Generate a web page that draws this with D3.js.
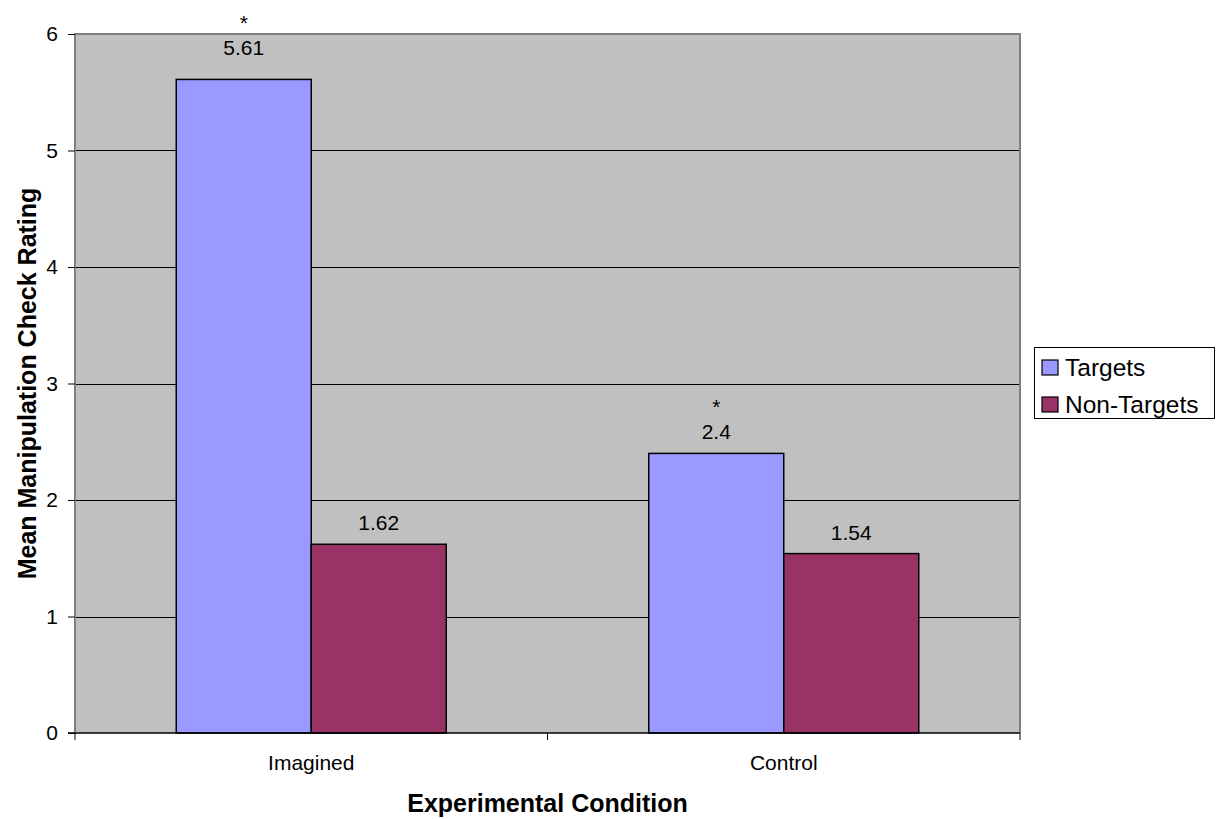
<!DOCTYPE html>
<html>
<head>
<meta charset="utf-8">
<script src="https://cdn.jsdelivr.net/npm/d3@7"></script>
<style>
  html, body { margin: 0; padding: 0; background: #ffffff; }
  svg { display: block; font-family: "Liberation Sans", Arial, sans-serif; }
</style>
</head>
<body>
<svg id="chart" width="1216" height="819"></svg>
<script>
// Experimental conditions and the two rating series
const categories = ["Imagined", "Control"];
const seriesNames = ["Targets", "Non-Targets"];
const targets = [5.61, 2.4];
const nonTargets = [1.62, 1.54];
const targetsSignificant = [true, true];     // asterisk above Targets bars
const nonTargetsSignificant = [false, false];
const yTicks = [0, 1, 2, 3, 4, 5, 6];

const colors = { "Targets": "#9999FF", "Non-Targets": "#993366" };

const svg = d3.select("#chart");
const plot = { left: 75, right: 1020, top: 34, bottom: 733 };

const x = d3.scaleBand()
  .domain(categories)
  .range([plot.left, plot.right])
  .paddingInner(0)
  .paddingOuter(0);

const xInner = d3.scaleBand()
  .domain(seriesNames)
  .range([0, x.bandwidth()])
  .paddingInner(0)
  .paddingOuter(0.75);

const y = d3.scaleLinear().domain([0, 6]).range([plot.bottom, plot.top]);

// Plot background
svg.append("rect")
  .attr("x", plot.left).attr("y", plot.top)
  .attr("width", plot.right - plot.left)
  .attr("height", plot.bottom - plot.top)
  .attr("fill", "#C0C0C0");

// Horizontal gridlines
svg.append("g")
  .selectAll("line")
  .data(yTicks.filter(t => t > 0 && t < 6))
  .join("line")
  .attr("x1", plot.left).attr("x2", plot.right)
  .attr("y1", d => Math.round(y(d)) + 0.5)
  .attr("y2", d => Math.round(y(d)) + 0.5)
  .attr("stroke", "#000")
  .attr("stroke-width", 1);

// Plot border (left, top, right)
svg.append("path")
  .attr("d", `M${plot.left},${plot.bottom} V${plot.top} H${plot.right} V${plot.bottom}`)
  .attr("fill", "none")
  .attr("stroke", "#808080")
  .attr("stroke-width", 2);

// Bars
const rows = categories.map((c, i) => ({
  category: c,
  values: [
    { series: "Targets", value: targets[i], star: targetsSignificant[i] },
    { series: "Non-Targets", value: nonTargets[i], star: nonTargetsSignificant[i] }
  ]
}));

const groups = svg.append("g")
  .selectAll("g")
  .data(rows)
  .join("g")
  .attr("transform", d => `translate(${x(d.category)},0)`);

groups.selectAll("rect")
  .data(d => d.values)
  .join("rect")
  .attr("x", d => xInner(d.series))
  .attr("y", d => y(d.value))
  .attr("width", xInner.bandwidth())
  .attr("height", d => y(0) - y(d.value))
  .attr("fill", d => colors[d.series])
  .attr("stroke", "#000")
  .attr("stroke-width", 1.5);

// Value labels (a label near the top of the plot sits a little higher)
const lift = v => (y(v) - plot.top < 60 ? 24 : 14);

groups.selectAll("text.value")
  .data(d => d.values)
  .join("text")
  .attr("class", "value")
  .attr("x", d => xInner(d.series) + xInner.bandwidth() / 2)
  .attr("y", d => y(d.value) - lift(d.value))
  .attr("text-anchor", "middle")
  .attr("font-size", 21)
  .attr("fill", "#000")
  .text(d => d.value);

groups.selectAll("text.star")
  .data(d => d.values.filter(v => v.star))
  .join("text")
  .attr("class", "star")
  .attr("x", d => xInner(d.series) + xInner.bandwidth() / 2)
  .attr("y", d => y(d.value) - lift(d.value) - 25)
  .attr("text-anchor", "middle")
  .attr("font-size", 21)
  .attr("fill", "#000")
  .text("*");

// Y axis
const yAxis = svg.append("g")
  .attr("transform", `translate(${plot.left},0)`)
  .call(d3.axisLeft(y).tickValues(yTicks).tickSize(7).tickPadding(10).tickFormat(d3.format("d")));
yAxis.select(".domain").remove();
yAxis.selectAll(".tick line").attr("stroke", "#000");
yAxis.selectAll(".tick text")
  .attr("font-size", 21)
  .attr("font-family", "'Liberation Sans', Arial, sans-serif")
  .attr("fill", "#000");

// X axis
const xAxis = svg.append("g")
  .attr("transform", `translate(0,${plot.bottom})`)
  .call(d3.axisBottom(x).tickSize(0).tickPadding(22));
xAxis.select(".domain").remove();
xAxis.selectAll(".tick text")
  .attr("font-size", 21)
  .attr("font-family", "'Liberation Sans', Arial, sans-serif")
  .attr("fill", "#000");

// Category separator ticks on the x axis
svg.append("g")
  .selectAll("line")
  .data([...categories.map(c => x(c)), plot.right])
  .join("line")
  .attr("x1", d => d).attr("x2", d => d)
  .attr("y1", plot.bottom).attr("y2", plot.bottom + 7)
  .attr("stroke", "#000")
  .attr("stroke-width", 1);

svg.append("line")
  .attr("x1", plot.left - 7).attr("x2", plot.right)
  .attr("y1", plot.bottom).attr("y2", plot.bottom)
  .attr("stroke", "#000")
  .attr("stroke-width", 1.5);

// Axis titles
svg.append("text")
  .attr("x", (plot.left + plot.right) / 2)
  .attr("y", 812)
  .attr("text-anchor", "middle")
  .attr("font-size", 25)
  .attr("font-weight", "bold")
  .attr("fill", "#000")
  .text("Experimental Condition");

svg.append("text")
  .attr("transform", `translate(36,${(plot.top + plot.bottom) / 2}) rotate(-90)`)
  .attr("text-anchor", "middle")
  .attr("font-size", 25)
  .attr("font-weight", "bold")
  .attr("fill", "#000")
  .text("Mean Manipulation Check Rating");

// Legend
const legend = svg.append("g").attr("transform", "translate(1034,347)");
legend.append("rect")
  .attr("x", 0.5).attr("y", 0.5)
  .attr("width", 180).attr("height", 71)
  .attr("fill", "#fff")
  .attr("stroke", "#000")
  .attr("stroke-width", 1);

const items = legend.selectAll("g.item")
  .data(seriesNames)
  .join("g")
  .attr("class", "item")
  .attr("transform", (d, i) => `translate(8,${13 + i * 37})`);

items.append("rect")
  .attr("width", 16).attr("height", 15)
  .attr("fill", d => colors[d])
  .attr("stroke", "#000")
  .attr("stroke-width", 1.2);

items.append("text")
  .attr("x", 23)
  .attr("y", 16)
  .attr("font-size", 24.5)
  .attr("fill", "#000")
  .text(d => d);
</script>
</body>
</html>
